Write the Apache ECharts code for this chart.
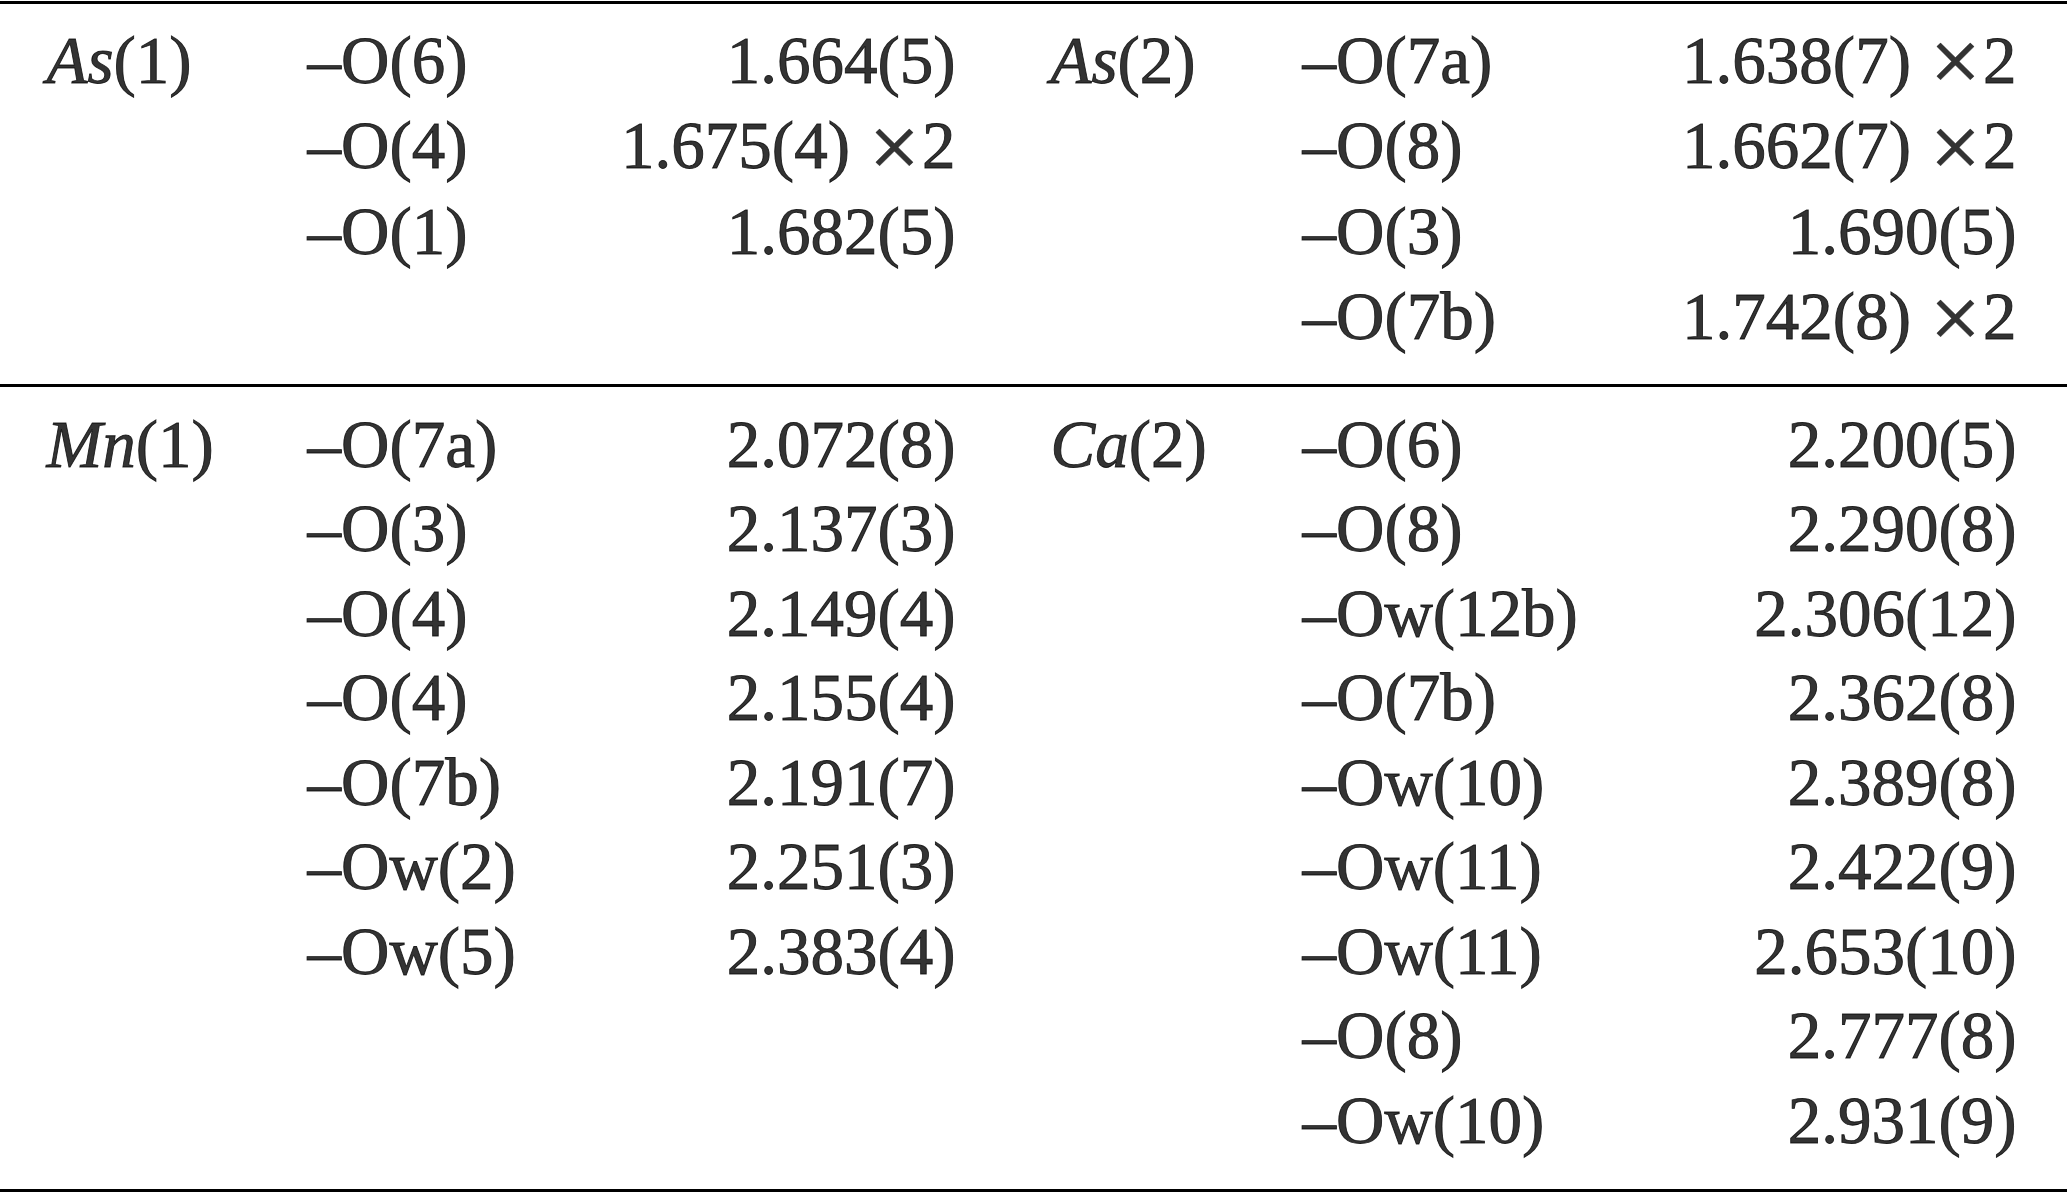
<!DOCTYPE html>
<html><head><meta charset="utf-8">
<script src="https://cdn.jsdelivr.net/npm/echarts@6/dist/echarts.min.js"></script>
<style>html,body{margin:0;padding:0;background:#fff}#c{width:2067px;height:1193px}</style>
</head><body><div id="c"></div>
<script>
// ---- data ----
const as1Atom = ['As', '(1)'];
const as1Ligands = ['–O(6)', '–O(4)', '–O(1)'];
const as1Distances = ['1.664(5)', '1.675(4) ×2', '1.682(5)'];

const as2Atom = ['As', '(2)'];
const as2Ligands = ['–O(7a)', '–O(8)', '–O(3)', '–O(7b)'];
const as2Distances = ['1.638(7) ×2', '1.662(7) ×2', '1.690(5)', '1.742(8) ×2'];

const mn1Atom = ['Mn', '(1)'];
const mn1Ligands = ['–O(7a)', '–O(3)', '–O(4)', '–O(4)', '–O(7b)', '–Ow(2)', '–Ow(5)'];
const mn1Distances = ['2.072(8)', '2.137(3)', '2.149(4)', '2.155(4)', '2.191(7)', '2.251(3)', '2.383(4)'];

const ca2Atom = ['Ca', '(2)'];
const ca2Ligands = ['–O(6)', '–O(8)', '–Ow(12b)', '–O(7b)', '–Ow(10)', '–Ow(11)', '–Ow(11)', '–O(8)', '–Ow(10)'];
const ca2Distances = ['2.200(5)', '2.290(8)', '2.306(12)', '2.362(8)', '2.389(8)', '2.422(9)', '2.653(10)', '2.777(8)', '2.931(9)'];

// ---- layout (pixels) ----
const W = 2067, H = 1193;
const sectionTop = [65, 449];
const rowStep = [85.5, 84.5];
const ruleY = [2, 385, 1190];
const sideCols = [
  {atom: 46, ligand: 307, dist: 956},
  {atom: 1050, ligand: 1302, dist: 2017}
];
const blocks = [
  {sec: 0, side: 0, atom: as1Atom, lig: as1Ligands, dist: as1Distances},
  {sec: 0, side: 1, atom: as2Atom, lig: as2Ligands, dist: as2Distances},
  {sec: 1, side: 0, atom: mn1Atom, lig: mn1Ligands, dist: mn1Distances},
  {sec: 1, side: 1, atom: ca2Atom, lig: ca2Ligands, dist: ca2Distances}
];

const atomPts = [], ligPts = [], distPts = [];
blocks.forEach(b => {
  const c = sideCols[b.side];
  const y0 = sectionTop[b.sec];
  const st = rowStep[b.sec];
  atomPts.push([c.atom, y0, '{it|' + b.atom[0] + '}{rm|' + b.atom[1] + '}']);
  b.lig.forEach((t, i) => ligPts.push([c.ligand, y0 + i * st, t]));
  b.dist.forEach((t, i) => distPts.push([c.dist, y0 + i * st, t.replace(' ×', ' {x|×}')]));
});

const FONT = 'Liberation Serif';
const FS = 67;
const stroke = {textBorderColor: '#000', textBorderWidth: 0.9};
const base = Object.assign({fontFamily: FONT, fontSize: FS, color: '#000'}, stroke);
function textSeries(name, data, pos, rich) {
  return {
    name, type: 'scatter', data, symbolSize: 1, silent: true,
    itemStyle: {color: 'rgba(0,0,0,0)'},
    emphasis: {disabled: true},
    label: Object.assign({
      show: true, position: pos, distance: 0,
      formatter: p => p.data[2],
      rich: rich || undefined
    }, base)
  };
}

const chart = echarts.init(document.getElementById('c'), null, {renderer: 'canvas'});
const ligSeries = textSeries('ligands', ligPts, 'right');
ligSeries.markLine = {
  silent: true, symbol: 'none', animation: false,
  label: {show: false},
  lineStyle: {color: '#000', width: 3, type: 'solid'},
  data: ruleY.map(y => ({yAxis: y}))
};
chart.setOption({
  animation: false,
  backgroundColor: '#fff',
  grid: {left: 0, right: 0, top: 0, bottom: 0},
  xAxis: {type: 'value', min: 0, max: W, show: false},
  yAxis: {type: 'value', min: 0, max: H, inverse: true, show: false},
  series: [
    textSeries('atoms', atomPts, 'right', {
      it: Object.assign({}, base, {fontStyle: 'italic'}),
      rm: Object.assign({}, base)
    }),
    ligSeries,
    textSeries('distances', distPts, 'left', {
      x: Object.assign({}, base, {fontFamily: 'DejaVu Serif', fontSize: 66, textBorderWidth: 0.4})
    })
  ]
});
</script></body></html>
